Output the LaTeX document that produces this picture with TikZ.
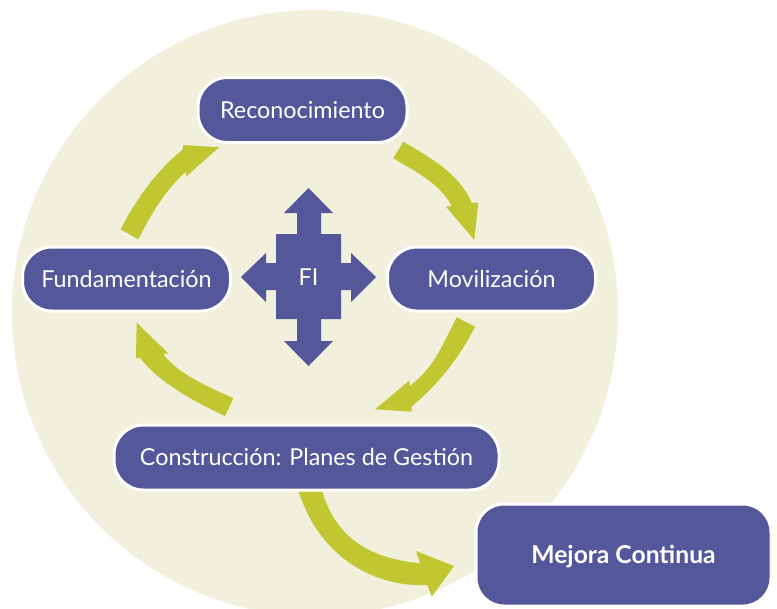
\documentclass[tikz,border=0pt]{standalone}
\usepackage{fontspec}
\setmainfont{Lato}
\definecolor{boxc}{RGB}{85,87,155}
\definecolor{bgc}{RGB}{240,240,220}
\definecolor{greenc}{RGB}{193,199,48}
\begin{document}
\begin{tikzpicture}[x=0.75pt,y=-0.75pt,
  box/.style={rectangle, rounded corners=22pt, fill=boxc, draw=white,
    line width=2.25pt, text=white, inner sep=0pt,
    font=\fontsize{17.5}{20}\selectfont, text height=12.6pt, text depth=0pt},
  garrow/.style={fill=greenc, draw=none},
  crossc/.style={fill=boxc, draw=none}]
\useasboundingbox (0,0) rectangle (777,608);
% background disc
\fill[bgc] (315,313) circle[radius=303];
% green arrows
\fill[garrow] (120.7,229.3) .. controls (135.6,199.9) and (156.3,171) .. (182.3,150)
  -- (183.3,145) -- (219,147.3) -- (186,176.7) -- (186,171.7)
  .. controls (165,190.2) and (150.9,214.4) .. (138.3,239.3) -- cycle;
\fill[garrow] (403.3,141.7) .. controls (430.8,158) and (458.9,173.3) .. (471.7,202.7)
  -- (478.3,202.7) -- (474.3,240) -- (446,206.7) -- (451.7,206)
  .. controls (440.5,183.8) and (414.8,171) .. (393.3,158.3) -- cycle;
\fill[garrow] (475,326.7) .. controls (459.2,357.9) and (439.2,383.3) .. (411.4,406.7)
  -- (411.7,411.7) -- (375,409.3) -- (409.3,380.7) -- (409.7,386)
  .. controls (434,368) and (442.9,344) .. (456.7,317.3) -- cycle;
\fill[garrow] (225,416) .. controls (196,402.4) and (159.5,383.3) .. (140,357.7)
  -- (136,358.3) -- (136.7,322.7) -- (168.3,353.3) -- (163.3,354.1)
  .. controls (178.5,374.8) and (210.7,387.7) .. (233.3,398.3) -- cycle;
\fill[garrow] (298.3,490) .. controls (317.8,555) and (372.5,587.7) .. (427.5,585)
  -- (431.7,596.7) -- (454,566) -- (416,551) -- (420,563.3)
  .. controls (371.5,558.4) and (336.4,539.9) .. (321.7,490) -- cycle;
% boxes
\node[box, minimum width=156.75pt, minimum height=48.75pt] (rec) at (302.5,110) {Reconocimiento};
\node[box, minimum width=156pt, minimum height=48pt] (fun) at (126.5,279) {Fundamentación};
\node[box, minimum width=156pt, minimum height=48pt] (mov) at (491.5,279) {Movilización};
\node[box, minimum width=288.75pt, minimum height=48.75pt] (con) at (306.5,457.5) {Construcción: Planes de Gestión};
\node[box, minimum width=221.25pt, minimum height=76.5pt, rounded corners=21pt,
  font=\fontsize{18.5}{20}\selectfont\bfseries, text height=13.3pt] (mej) at (623.5,555) {Mejora Continua};
% central cross
\fill[crossc] (308.5,188) -- (333,213) -- (321,213) -- (321,234) -- (341,234) -- (341,263)
  -- (351,263) -- (351,253) -- (376,277) -- (351,302) -- (351,290) -- (341,290)
  -- (341,319) -- (321,319) -- (321,341) -- (333,341) -- (308.5,366) -- (284,341)
  -- (297,341) -- (297,319) -- (276,319) -- (276,290) -- (266,290) -- (266,302)
  -- (241,277) -- (266,253) -- (266,263) -- (276,263) -- (276,234) -- (297,234)
  -- (297,213) -- (284,213) -- cycle;
\node[text=white, inner sep=0pt, font=\fontsize{17.5}{20}\selectfont, text height=12.6pt, text depth=0pt] (fi) at (308.5,277) {FI};
\end{tikzpicture}
\end{document}
